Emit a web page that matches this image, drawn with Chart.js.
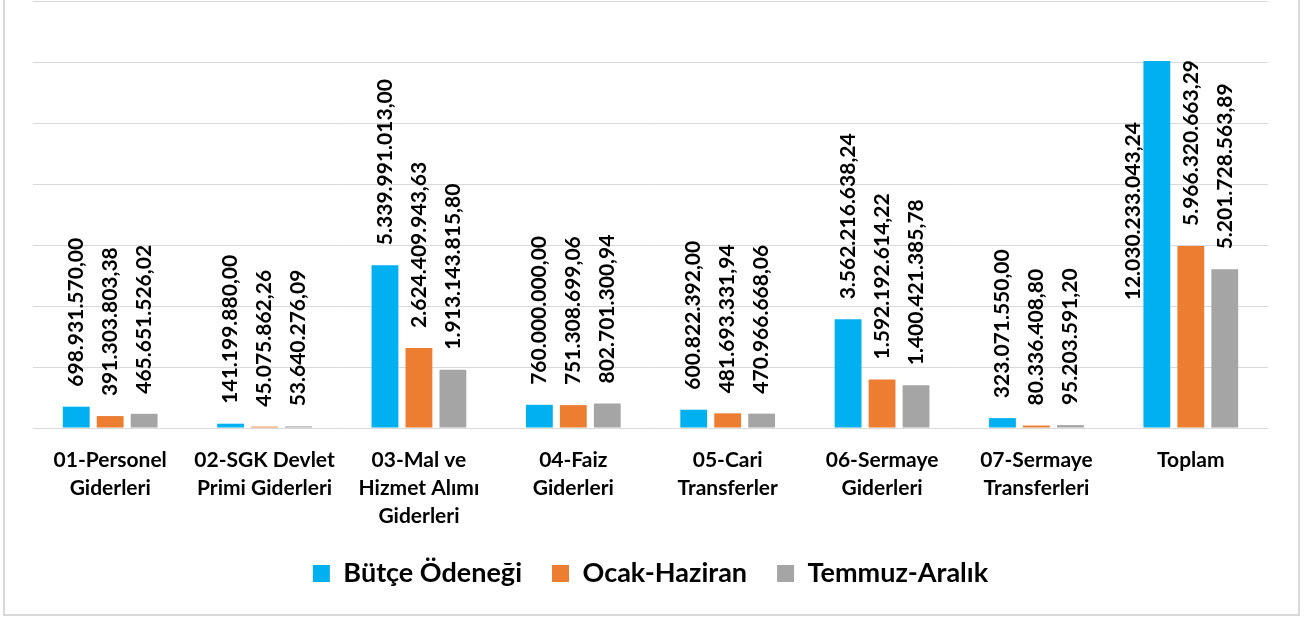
<!DOCTYPE html>
<html>
<head>
<meta charset="utf-8">
<script src="https://cdn.jsdelivr.net/npm/chart.js@4.4.1/dist/chart.umd.min.js"></script>
<style>
  html, body { margin: 0; padding: 0; background: #fff; }
  #wrap { width: 1311px; height: 621px; position: relative; }
</style>
</head>
<body>
<div id="wrap"><canvas id="myChart" width="1311" height="621"></canvas></div>
<script>
// categories (multi-line labels)
const categories = [
    ['01-Personel', 'Giderleri'],
    ['02-SGK Devlet', 'Primi Giderleri'],
    ['03-Mal ve', 'Hizmet Alımı', 'Giderleri'],
    ['04-Faiz', 'Giderleri'],
    ['05-Cari', 'Transferler'],
    ['06-Sermaye', 'Giderleri'],
    ['07-Sermaye', 'Transferleri'],
    'Toplam'
];
const seriesNames = ['Bütçe Ödeneği', 'Ocak-Haziran', 'Temmuz-Aralık'];
const butceOdenegi = [698931570.00, 141199880.00, 5339991013.00, 760000000.00, 600822392.00, 3562216638.24, 323071550.00, 12030233043.24];
const ocakHaziran = [391303803.38, 45075862.26, 2624409943.63, 751308699.06, 481693331.94, 1592192614.22, 80336408.80, 5966320663.29];
const temmuzAralik = [465651526.02, 53640276.09, 1913143815.80, 802701300.94, 470966668.06, 1400421385.78, 95203591.20, 5201728563.89];
const colors = ['#00B0F0', '#ED7D31', '#A5A5A5'];

const FONT = 'Lato';

// 1234567.8 -> "1.234.567,80"
function formatTr(v) {
    const parts = v.toFixed(2).split('.');
    const intPart = parts[0].replace(/\B(?=(\d{3})+(?!\d))/g, '.');
    return intPart + ',' + parts[1];
}

// vertical value labels above each bar
const barLabels = {
    id: 'barLabels',
    afterDatasetsDraw(chart) {
        const ctx = chart.ctx;
        const area = chart.chartArea;
        ctx.save();
        ctx.font = 'bold 21px ' + FONT;
        ctx.fillStyle = '#000';
        chart.data.datasets.forEach((ds, i) => {
            const meta = chart.getDatasetMeta(i);
            meta.data.forEach((bar, j) => {
                const txt = formatTr(ds.data[j]);
                const w = ctx.measureText(txt).width;
                ctx.save();
                if (bar.y - 20 - w < area.top) {
                    // does not fit above: put it beside the bar
                    ctx.translate(bar.x - bar.width / 2 - 10, bar.y + 61);
                    ctx.rotate(-Math.PI / 2);
                    ctx.textAlign = 'right';
                } else {
                    ctx.translate(bar.x, bar.y - 20);
                    ctx.rotate(-Math.PI / 2);
                    ctx.textAlign = 'left';
                }
                ctx.textBaseline = 'middle';
                ctx.fillText(txt, 0, 0);
                ctx.restore();
            });
        });
        ctx.restore();
    }
};

// light frame round the chart
const frame = {
    id: 'frame',
    beforeDraw(chart) {
        const ctx = chart.ctx;
        ctx.save();
        ctx.strokeStyle = '#d9d9d9';
        ctx.lineWidth = 2;
        ctx.strokeRect(4, -10, 1295, 625);
        ctx.restore();
    }
};

new Chart(document.getElementById('myChart'), {
    type: 'bar',
    data: {
        labels: categories,
        datasets: [
            { label: seriesNames[0], data: butceOdenegi, backgroundColor: colors[0] },
            { label: seriesNames[1], data: ocakHaziran, backgroundColor: colors[1] },
            { label: seriesNames[2], data: temmuzAralik, backgroundColor: colors[2] }
        ]
    },
    options: {
        responsive: false,
        animation: false,
        categoryPercentage: 0.66,
        barPercentage: 0.79,
        layout: { padding: { left: 33, right: 43, top: 1, bottom: 24 } },
        scales: {
            x: {
                grid: { display: false },
                border: { display: false },
                ticks: {
                    color: '#000',
                    maxRotation: 0,
                    autoSkip: false,
                    padding: 10,
                    font: { family: FONT, size: 21, weight: 'bold', lineHeight: 1.333 }
                },
                afterFit: (scale) => { scale.height = 102; }
            },
            y: {
                min: 0,
                max: 14000000000,
                ticks: { display: false, stepSize: 2000000000 },
                grid: { color: '#d9d9d9', lineWidth: 1, drawTicks: false },
                border: { display: false },
                afterFit: (scale) => { scale.width = 0; }
            }
        },
        plugins: {
            legend: {
                position: 'bottom',
                labels: {
                    color: '#000',
                    boxWidth: 17,
                    boxHeight: 17,
                    padding: 30,
                    font: { family: FONT, size: 27, weight: 'bold' }
                }
            },
            tooltip: { enabled: false }
        }
    },
    plugins: [barLabels, frame]
});
</script>
</body>
</html>
